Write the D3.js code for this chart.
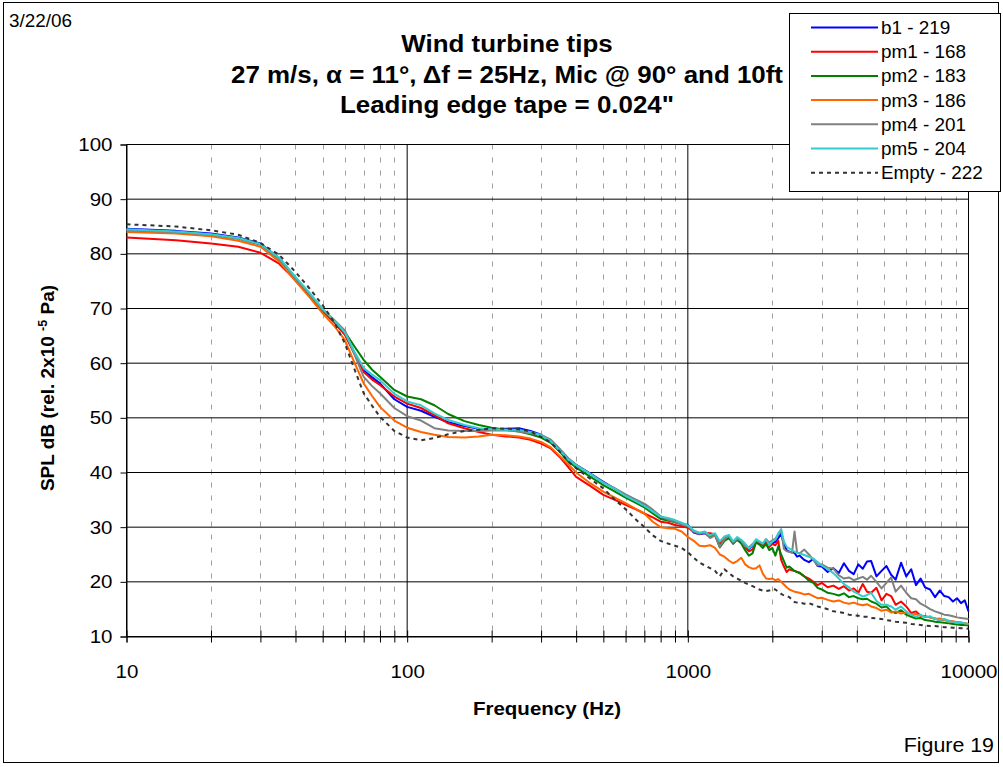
<!DOCTYPE html>
<html>
<head>
<meta charset="utf-8">
<script src="https://cdn.jsdelivr.net/npm/d3@7"></script>
<style>
  body { margin: 0; background: #fff; }
  svg { display: block; }
  text { font-family: "Liberation Sans", Arial, sans-serif; }
</style>
</head>
<body>
<script>

// frequencies (Hz) shared by all series
const freqs = [10,15,20,25,30,35,40,45,50,55,60,65,70,75,80,90,100,112,125,140,160,180,200,225,250,275,300,325,350,375,400,450,500,550,600,650,700,750,800,850,900,950,1000,
  1050,1100,1150,1200,1250,1300,1350,1400,1450,1500,1550,1600,1650,1700,1750,1800,1850,1900,1950,2000,2050,2100,2150,2200,2250,2300,
  2350,2400,2450,2500,2600,2700,2800,2900,3000,
  3150,3300,3450,3600,3750,3900,4050,4200,4350,4500,
  4700,4900,5100,5300,5500,
  5750,6000,6250,6500,6750,7000,
  7300,7600,7900,8200,8500,8800,9100,9400,9700,10000];

const b1 = [84.6,84.2,83.7,83.0,81.9,79.2,75.5,72.5,69.7,67.5,65.4,61.8,58.7,57.4,56.3,53.4,52.0,51.3,50.2,49.2,48.5,48.0,47.9,48.0,48.1,47.6,46.9,45.8,44.0,42.5,41.4,39.8,38.3,37.0,35.9,35.0,34.1,33.0,31.9,31.3,31.0,30.6,30.4,
  29.0,28.7,28.9,28.2,28.6,26.6,27.6,28.3,27.0,28.0,27.5,26.8,26.0,26.5,27.5,27.2,26.8,27.6,26.5,27.0,27.3,28.0,28.8,26.8,25.8,25.5,
  25.4,25.3,24.6,24.8,24.0,23.6,24.2,22.9,22.8,
  21.8,22.5,21.6,23.4,22.0,21.4,23.2,22.4,23.7,23.8,
  21.0,22.0,22.9,21.3,20.4,
  23.5,21.0,22.3,19.4,20.6,19.0,
  18.6,17.2,18.4,17.4,17.2,16.4,17.0,16.1,16.6,14.6];

const pm1 = [83.0,82.5,81.9,81.3,80.2,78.2,75.2,72.3,69.5,67.4,65.2,61.6,58.4,57.0,56.0,53.9,52.6,51.8,50.5,49.0,48.1,47.4,46.9,46.6,46.4,46.0,45.3,44.4,42.8,41.0,39.2,37.5,35.9,35.0,34.1,33.3,32.5,31.8,31.0,30.8,30.4,30.2,29.9,
  29.2,28.8,29.0,28.9,28.7,27.0,27.9,28.2,27.2,27.9,27.3,26.3,25.6,25.9,27.3,27.0,26.7,27.2,26.4,26.9,26.7,27.5,24.0,22.8,21.8,22.3,
  22.1,22.0,21.8,21.6,21.0,20.6,20.0,19.4,19.8,
  19.0,19.3,18.7,19.2,18.4,18.8,18.0,19.6,18.2,18.0,
  18.9,16.6,17.8,17.4,15.8,
  16.4,15.5,14.3,14.6,13.8,13.7,
  13.5,13.3,13.0,13.1,12.8,12.7,12.6,12.5,12.4,12.3];

const pm2 = [84.3,84.0,83.5,82.8,81.7,79.0,75.5,72.5,69.8,67.8,65.7,63.0,60.6,58.8,57.5,55.1,53.9,53.4,52.3,50.7,49.4,48.7,48.2,47.8,47.5,47.0,46.4,45.4,43.8,42.0,40.9,39.2,37.7,36.5,35.4,34.5,33.6,32.5,31.5,31.2,30.9,30.6,30.2,
  29.3,28.9,29.0,28.3,28.6,26.3,27.5,28.0,27.0,27.7,27.0,25.8,24.8,25.2,27.2,26.8,26.2,26.9,25.8,26.2,24.8,26.5,25.0,23.8,22.6,22.8,
  22.4,22.0,21.8,21.7,21.0,20.2,19.8,18.9,18.6,
  18.0,17.8,17.5,17.9,17.2,17.4,17.0,16.8,16.9,16.4,
  16.0,15.3,15.5,14.6,14.3,
  14.8,14.0,13.6,13.3,13.4,13.0,
  12.9,12.7,12.6,12.5,12.4,12.3,12.2,12.1,12.1,12.0];

const pm3 = [84.0,83.7,83.2,82.4,81.3,78.6,75.0,72.0,69.1,66.8,64.2,60.0,56.3,54.0,52.0,49.5,48.2,47.4,46.9,46.5,46.4,46.6,46.9,46.8,46.6,46.2,45.6,44.6,43.0,41.5,40.0,38.0,36.5,35.4,34.4,33.4,32.5,31.0,30.0,29.8,29.7,29.2,28.2,
  27.5,26.6,26.5,26.7,26.2,25.0,24.6,23.9,23.4,23.8,24.4,23.2,22.7,22.4,22.5,23.0,21.5,20.6,20.5,20.6,20.3,20.5,20.0,19.5,19.0,18.6,
  18.4,18.2,18.1,18.0,17.7,17.8,17.4,17.0,17.1,
  16.7,16.4,16.6,16.2,16.0,16.2,15.9,15.7,15.9,15.5,
  15.2,14.7,14.9,14.4,14.6,
  14.2,14.4,14.0,14.1,13.8,13.6,
  13.5,13.2,13.3,13.0,12.9,12.8,12.6,12.5,12.4,12.3];

const pm4 = [84.3,84.0,83.5,82.8,81.7,79.0,75.5,72.6,69.8,67.9,66.0,61.5,57.5,55.8,54.5,51.8,50.3,49.5,48.1,47.7,47.6,47.6,47.7,47.7,47.5,47.2,46.9,46.0,44.3,42.6,41.4,39.7,38.2,37.1,36.0,35.1,34.3,33.2,32.0,31.4,31.0,30.5,30.2,
  29.2,28.8,29.0,28.0,28.5,26.4,27.8,28.4,27.2,27.9,27.5,26.5,26.3,26.9,27.6,27.3,27.0,27.8,27.2,27.6,27.9,28.6,29.6,26.0,25.6,25.5,
  25.3,29.2,25.4,25.2,25.9,25.0,24.0,23.0,23.2,
  22.6,22.4,21.2,20.6,20.8,20.3,20.6,20.9,20.4,21.1,
  20.0,18.8,19.8,20.8,18.2,
  19.3,18.0,17.0,16.8,16.0,15.6,
  15.0,14.6,14.3,14.0,13.9,13.7,13.5,13.4,13.3,13.2];

const pm5 = [84.5,84.1,83.6,82.9,81.8,79.3,75.8,72.8,69.9,67.8,65.6,62.0,59.1,57.9,56.9,54.4,53.0,52.3,50.8,49.6,48.7,48.1,47.9,47.8,47.8,47.4,46.8,45.7,44.0,42.4,41.3,39.7,38.1,37.0,35.7,34.8,33.9,32.9,31.9,31.7,31.3,30.8,30.3,
  29.4,29.0,29.2,28.5,28.9,27.4,28.3,28.6,27.4,28.2,27.7,27.0,26.1,26.7,27.8,27.4,27.0,27.8,26.7,27.4,27.7,28.9,29.6,27.4,26.4,26.1,
  25.8,25.5,25.3,25.2,24.9,24.6,24.2,23.6,23.0,
  22.3,21.6,20.6,19.6,19.0,18.2,17.8,17.3,17.6,18.0,
  16.5,15.8,15.8,15.5,14.9,
  15.5,14.6,14.0,13.6,14.0,13.5,
  13.7,13.2,13.0,13.2,12.8,12.7,12.5,12.6,12.4,12.3];

const empty = [85.4,85.0,84.3,83.5,82.0,79.8,76.7,73.6,70.6,67.5,63.6,58.8,54.5,52.2,50.2,47.6,46.4,45.9,46.3,47.0,47.6,47.8,48.1,48.0,47.9,47.5,46.5,45.5,43.8,42.0,40.8,38.8,37.1,35.0,33.3,31.5,30.0,28.5,27.5,27.0,26.6,26.2,25.4,
  24.4,23.5,23.0,22.5,22.0,21.0,22.3,21.6,21.0,20.6,20.2,19.8,19.5,19.2,18.9,18.6,18.4,18.3,18.4,18.7,18.6,18.2,17.8,17.5,17.4,17.2,
  16.7,16.3,16.2,16.2,16.0,16.1,15.8,15.5,15.3,
  15.0,14.6,14.5,14.3,14.0,13.9,13.8,13.6,13.6,13.4,
  13.3,13.2,13.0,12.9,12.7,
  12.6,12.5,12.3,12.2,12.1,12.0,
  11.9,11.9,11.8,11.7,11.7,11.6,11.6,11.5,11.5,11.4];

const seriesNames = ["b1 - 219", "pm1 - 168", "pm2 - 183", "pm3 - 186", "pm4 - 201", "pm5 - 204", "Empty - 222"];
const seriesValues = [b1, pm1, pm2, pm3, pm4, pm5, empty];
const seriesColors = ["#0000ff", "#ff0000", "#008000", "#ff6600", "#808080", "#33cccc", "#333333"];

const yTicks = [10, 20, 30, 40, 50, 60, 70, 80, 90, 100];
const xMajor = [10, 100, 1000, 10000];
const xMinor = [20, 30, 40, 50, 60, 70, 80, 90, 200, 300, 400, 500, 600, 700, 800, 900,
  2000, 3000, 4000, 5000, 6000, 7000, 8000, 9000];

seriesValues.forEach(function (s, i) {
  if (s.length !== freqs.length) console.error(seriesNames[i] + " has " + s.length + " values");
});

const W = 1003, H = 767;
const plot = {left: 126.5, right: 968.5, top: 144.5, bottom: 636.5};
const stretch = 1.08;  // the reference text is a little wider than Arial

const xScale = d3.scaleLog().domain([10, 10000]).range([plot.left, plot.right]);
const yScale = d3.scaleLinear().domain([10, 100]).range([plot.bottom, plot.top]);

const svg = d3.select("body").append("svg")
  .attr("width", W)
  .attr("height", H);

svg.append("rect")
  .attr("x", 3.5).attr("y", 2.5)
  .attr("width", 995).attr("height", 760)
  .attr("fill", "#fff")
  .attr("stroke", "#000");

function label(x, y, str, size, opts) {
  opts = opts || {};
  return svg.append("text")
    .attr("transform", "translate(" + x + "," + y + ") scale(" + stretch + ",1)")
    .attr("text-anchor", opts.anchor || "start")
    .attr("font-size", size)
    .attr("font-weight", opts.bold ? "bold" : "normal")
    .text(str);
}

// minor vertical gridlines (dashed)
svg.append("g").selectAll("line")
  .data(xMinor)
  .enter().append("line")
  .attr("x1", function (d) { return Math.round(xScale(d)) + 0.5; })
  .attr("x2", function (d) { return Math.round(xScale(d)) + 0.5; })
  .attr("y1", plot.top).attr("y2", plot.bottom)
  .attr("stroke", "#a0a0a0")
  .attr("stroke-dasharray", "5,8");

// major gridlines
svg.append("g").selectAll("line")
  .data(yTicks)
  .enter().append("line")
  .attr("x1", plot.left).attr("x2", plot.right)
  .attr("y1", function (d) { return yScale(d); })
  .attr("y2", function (d) { return yScale(d); })
  .attr("stroke", "#000");

svg.append("g").selectAll("line")
  .data(xMajor)
  .enter().append("line")
  .attr("x1", function (d) { return xScale(d); })
  .attr("x2", function (d) { return xScale(d); })
  .attr("y1", plot.top).attr("y2", plot.bottom)
  .attr("stroke", "#000");

// axes
const xAxis = d3.axisBottom(xScale)
  .tickValues(xMajor.concat(xMinor))
  .tickSize(6)
  .tickPadding(22)
  .tickFormat(function (d) { return xMajor.indexOf(d) >= 0 ? d : ""; });

const gx = svg.append("g")
  .attr("transform", "translate(0," + plot.bottom + ")")
  .call(xAxis);
gx.select(".domain").attr("stroke", "#000");
gx.selectAll(".tick line").attr("y1", -6).attr("stroke", "#000");
gx.selectAll(".tick text")
  .attr("font-size", 19)
  .attr("font-family", "Liberation Sans, Arial, sans-serif")
  .attr("transform", "scale(" + stretch + ",1)")
  .attr("fill", "#000");

const yAxis = d3.axisLeft(yScale)
  .tickValues(yTicks)
  .tickSize(6)
  .tickPadding(7);

const gy = svg.append("g")
  .attr("transform", "translate(" + plot.left + ",0)")
  .call(yAxis);
gy.select(".domain").attr("stroke", "#000");
gy.selectAll(".tick line").attr("stroke", "#000");
gy.selectAll(".tick text")
  .attr("font-size", 19)
  .attr("font-family", "Liberation Sans, Arial, sans-serif")
  .attr("transform", "scale(" + stretch + ",1)")
  .attr("fill", "#000");

// series
const line = d3.line()
  .x(function (d) { return xScale(d.f); })
  .y(function (d) { return yScale(d.v); });

seriesValues.forEach(function (vals, i) {
  const pts = freqs.map(function (f, j) { return {f: f, v: vals[j]}; });
  svg.append("path")
    .datum(pts)
    .attr("d", line)
    .attr("fill", "none")
    .attr("stroke", seriesColors[i])
    .attr("stroke-width", 2)
    .attr("stroke-linejoin", "round")
    .attr("stroke-dasharray", i === 6 ? "4,4" : null);
});

// titles
label(9, 27, "3/22/06", 17.5);

const titleLines = ["Wind turbine tips",
  "27 m/s, \u03b1 = 11\u00b0, \u0394f = 25Hz, Mic @ 90\u00b0 and 10ft",
  "Leading edge tape = 0.024\""];
titleLines.forEach(function (t, i) {
  label(507, 52 + i * 30.5, t, 24, {anchor: "middle", bold: true});
});

label(547, 715, "Frequency (Hz)", 19, {anchor: "middle", bold: true});
label(994, 752, "Figure 19", 19.8, {anchor: "end"});

const ylab = svg.append("text")
  .attr("transform", "translate(54,388) rotate(-90)")
  .attr("text-anchor", "middle")
  .attr("font-size", 19)
  .attr("font-weight", "bold");
ylab.append("tspan").text("SPL dB (rel. 2x10 ");
ylab.append("tspan").attr("dy", -7).attr("font-size", 12.5).text("-5");
ylab.append("tspan").attr("dy", 7).text(" Pa)");

// legend
const legend = svg.append("g");
legend.append("rect")
  .attr("x", 789.5).attr("y", 13.5)
  .attr("width", 211).attr("height", 178)
  .attr("fill", "#fff")
  .attr("stroke", "#000");

const rows = legend.selectAll("g.row")
  .data(seriesNames)
  .enter().append("g")
  .attr("class", "row")
  .attr("transform", function (d, i) { return "translate(0," + (27.5 + i * 24.2) + ")"; });
rows.append("line")
  .attr("x1", 811).attr("x2", 878)
  .attr("stroke", function (d, i) { return seriesColors[i]; })
  .attr("stroke-width", 2)
  .attr("stroke-dasharray", function (d, i) { return i === 6 ? "4,4" : null; });
rows.append("text")
  .attr("transform", "translate(881,6.5) scale(" + (stretch - 0.03) + ",1)")
  .attr("font-size", 18)
  .text(function (d) { return d; });

</script>
</body>
</html>
